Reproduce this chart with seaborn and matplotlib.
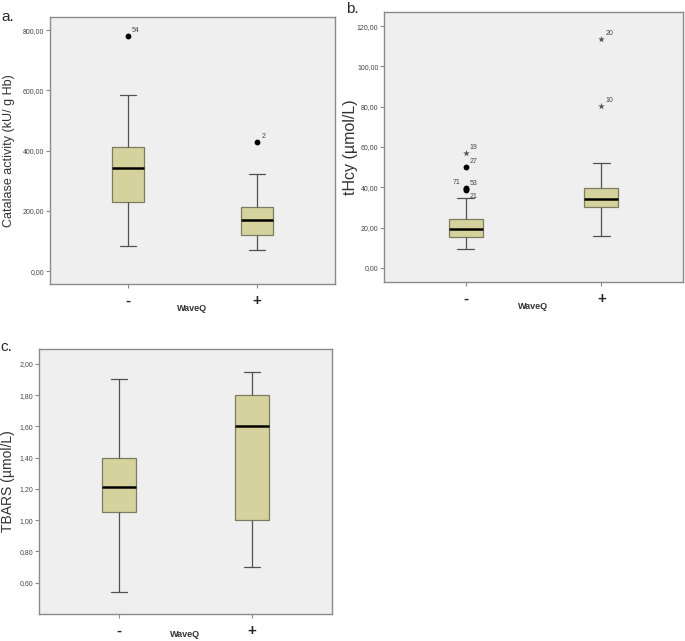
import matplotlib
matplotlib.use("Agg")
import matplotlib.pyplot as plt
import pandas as pd
import seaborn as sns

groups = ["-", "+"]

# five-number summaries: low whisker, Q1, median, Q3, high whisker
catalase_minus = [84, 230, 341, 413, 585]
catalase_plus = [70, 120, 169, 214, 322]
thcy_minus = [9.3, 15.4, 19.2, 24.5, 34.5]
thcy_plus = [15.9, 30.0, 34.4, 39.7, 52.3]
tbars_minus = [0.54, 1.05, 1.21, 1.40, 1.90]
tbars_plus = [0.70, 1.00, 1.60, 1.80, 1.95]

# outliers (group, value, case number)
catalase_circles = [("-", 780, "54"), ("+", 429, "2")]
catalase_stars = []
thcy_circles = [("-", 50.1, "27"), ("-", 39.7, "71"), ("-", 39.2, "53"), ("-", 38.8, "21")]
thcy_stars = [("-", 56.8, "19"), ("+", 113.4, "20"), ("+", 80.3, "10")]
tbars_circles = []
tbars_stars = []

catalase_ticks = [0, 200, 400, 600, 800]
thcy_ticks = [0, 20, 40, 60, 80, 100, 120]
tbars_ticks = [0.6, 0.8, 1.0, 1.2, 1.4, 1.6, 1.8, 2.0]

# label offsets (points) for case numbers
label_offsets = {"71": (-9, 3), "53": (3, 3), "21": (3, -6)}

BOX = "#D6D29E"
BG = "#EFEFEF"
FRAME = "#8A8A8A"


def draw_panel(ax, minus, plus, circles, stars, ticks, ylim, ylabel, ylabel_size, label_x, xlabel_y):
    df = pd.DataFrame({"group": ["-"] * len(minus) + ["+"] * len(plus), "value": minus + plus})
    sns.boxplot(data=df, x="group", y="value", order=groups, ax=ax, whis=(0, 100),
                showfliers=False, width=0.25, color=BOX, saturation=1, linecolor="#505050",
                linewidth=0.9, medianprops={"color": "black", "linewidth": 1.8},
                boxprops={"edgecolor": "#7d7b60"})
    for pts, marker, size in [(circles, "o", 4.2), (stars, "*", 5)]:
        if not pts:
            continue
        odf = pd.DataFrame(pts, columns=["group", "value", "case"])
        sns.stripplot(data=odf, x="group", y="value", order=groups, ax=ax, jitter=False,
                      marker=marker, size=size, color="black" if marker == "o" else "#555555",
                      linewidth=0, zorder=5)
        for g, v, case in pts:
            ax.annotate(case, (groups.index(g), v), xytext=label_offsets.get(case, (3, 3)),
                        textcoords="offset points", fontsize=5, color="#444444")
    ax.set_facecolor(BG)
    ax.set_xlim(-0.6, 1.6)
    ax.set_ylim(*ylim)
    ax.set_yticks(ticks)
    ax.set_yticklabels([f"{t:.2f}".replace(".", ",") for t in ticks])
    ax.set_xticks([0, 1])
    ax.set_xticklabels(groups, fontsize=11, fontweight="bold")
    ax.tick_params(axis="y", length=3, width=0.8, color=FRAME, labelsize=5, labelcolor="#444444", pad=1)
    ax.tick_params(axis="x", length=3, width=0.8, color=FRAME, pad=4)
    for sp in ax.spines.values():
        sp.set_visible(True)
        sp.set_color(FRAME)
        sp.set_linewidth(1.0)
    ax.set_ylabel(ylabel, fontsize=ylabel_size, color="#333333")
    ax.yaxis.set_label_coords(label_x, 0.5)
    ax.set_xlabel("WaveQ", fontsize=6.5, fontweight="bold", color="#333333")
    ax.xaxis.set_label_coords(0.5, xlabel_y)


sns.set_style("ticks")
plt.rcParams["font.family"] = ["Liberation Sans", "DejaVu Sans"]

fig = plt.figure(figsize=(6.85, 6.41), dpi=100)
W, H = 685, 641


def add_axes(left, top, right, bottom):
    return fig.add_axes([left / W, 1 - bottom / H, (right - left) / W, (bottom - top) / H])


ax_a = add_axes(50, 17, 335, 284)
ax_b = add_axes(384, 12, 683, 282)
ax_c = add_axes(39, 349, 332, 614)

draw_panel(ax_a, catalase_minus, catalase_plus, catalase_circles, catalase_stars,
           catalase_ticks, (-43, 844), "Catalase activity (kU/ g Hb)", 9, -0.123, -0.075)
draw_panel(ax_b, thcy_minus, thcy_plus, thcy_circles, thcy_stars,
           thcy_ticks, (-7, 127), "tHcy (µmol/L)", 11.5, -0.088, -0.075)
draw_panel(ax_c, tbars_minus, tbars_plus, tbars_circles, tbars_stars,
           tbars_ticks, (0.40, 2.095), "TBARS (µmol/L)", 10, -0.082, -0.06)

fig.text(8 / W, 1 - 17 / H, "a.", fontsize=11, ha="center", va="center")
fig.text(352 / W, 1 - 9 / H, "b.", fontsize=11, ha="center", va="center")
fig.text(6 / W, 1 - 347 / H, "c.", fontsize=11, ha="center", va="center")

fig.savefig("out.png", dpi=100)
